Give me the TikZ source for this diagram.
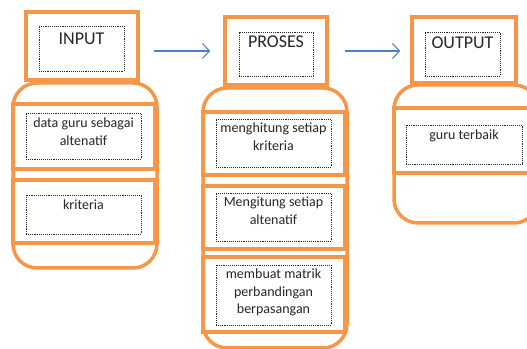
\documentclass[tikz,border=0pt]{standalone}
\usepackage{fontspec}
\setmainfont{Carlito}
\usetikzlibrary{arrows.meta}
\definecolor{boxorange}{HTML}{F79646}
\definecolor{flowblue}{HTML}{4F81BD}
\newcommand{\boxtext}[4]{\parbox[c][#2][t]{#1}{\centering\rule{0pt}{#3}#4}}
\tikzset{
  topbox/.style={draw=boxorange,line width=3.5bp,fill=white,inner sep=0pt},
  container/.style={draw=boxorange,line width=3.5bp,rounded corners=24bp,inner sep=0pt},
  innerbox/.style={draw=boxorange,line width=3.5bp,fill=white,inner sep=0pt},
  dotbox/.style={draw=black!85,densely dotted,line width=0.9bp,inner sep=0pt,text=black!85},
  headtext/.style={font=\fontsize{18bp}{21bp}\selectfont},
  bodytext/.style={font=\fontsize{14bp}{17.5bp}\selectfont},
  flow/.style={draw=flowblue,line width=1.1bp,-{Straight Barb[length=7bp,width=15bp]}},
}
\begin{document}
\begin{tikzpicture}[x=1bp,y=1bp]
\useasboundingbox (0,0) rectangle (527bp,349bp);
%% input
\node (inputbody) at (85.0bp,173.5bp) [container,minimum width=144bp,minimum height=185bp] {};
\node (inputtop) at (82.0bp,303.0bp) [topbox,minimum width=112bp,minimum height=68bp] {};
\node (inputdot) at (81.5bp,300.5bp) [dotbox,headtext] {\boxtext{85bp}{45bp}{19bp}{INPUT}};
\node (inputbox1) at (84.0bp,212.5bp) [innerbox,minimum width=142bp,minimum height=65bp] {};
\node (inputdot1) at (83.5bp,213.0bp) [dotbox,bodytext] {\boxtext{115bp}{46bp}{15bp}{data guru sebagai\\altenatif}};
\node (inputbox2) at (84.0bp,137.5bp) [innerbox,minimum width=142bp,minimum height=63bp] {};
\node (inputdot2) at (83.5bp,134.5bp) [dotbox,bodytext] {\boxtext{115bp}{39bp}{15bp}{kriteria}};
%% proses
\node (prosesbody) at (275.0bp,131.0bp) [container,minimum width=144bp,minimum height=260bp] {};
\node (prosestop) at (276.0bp,298.0bp) [topbox,minimum width=102bp,minimum height=68bp] {};
\node (prosesdot) at (276.0bp,295.0bp) [dotbox,headtext] {\boxtext{74bp}{44bp}{16bp}{PROSES}};
\node (prosesbox1) at (274.0bp,205.5bp) [innerbox,minimum width=142bp,minimum height=63bp] {};
\node (prosesdot1) at (273.5bp,206.0bp) [dotbox,bodytext] {\boxtext{115bp}{48bp}{14bp}{menghitung setiap\\kriteria}};
\node (prosesbox2) at (274.0bp,131.5bp) [innerbox,minimum width=142bp,minimum height=63bp] {};
\node (prosesdot2) at (273.5bp,132.0bp) [dotbox,bodytext] {\boxtext{115bp}{48bp}{14bp}{Mengitung setiap\\altenatif}};
\node (prosesbox3) at (274.0bp,54.5bp) [innerbox,minimum width=142bp,minimum height=75bp] {};
\node (prosesdot3) at (273.5bp,54.0bp) [dotbox,bodytext] {\boxtext{115bp}{60bp}{14bp}{membuat matrik\\perbandingan\\berpasangan}};
%% output
\node (outputbody) at (466.0bp,195.0bp) [container,minimum width=144bp,minimum height=138bp] {};
\node (outputtop) at (464.0bp,299.0bp) [topbox,minimum width=104bp,minimum height=66bp] {};
\node (outputdot) at (462.5bp,295.0bp) [dotbox,headtext] {\boxtext{75bp}{44bp}{17bp}{OUTPUT}};
\node (outputbox1) at (465.0bp,208.5bp) [innerbox,minimum width=142bp,minimum height=65bp] {};
\node (outputdot1) at (464.0bp,204.5bp) [dotbox,bodytext] {\boxtext{116bp}{39bp}{15bp}{guru terbaik}};
%
\draw [flow,shorten <=14bp,shorten >=13bp] (inputtop.east |- prosestop.west) -- (prosestop.west);
\draw [flow,shorten <=16bp,shorten >=10bp] (prosestop.east) -- (outputtop.west |- prosestop.east);
%
\end{tikzpicture}
\end{document}
